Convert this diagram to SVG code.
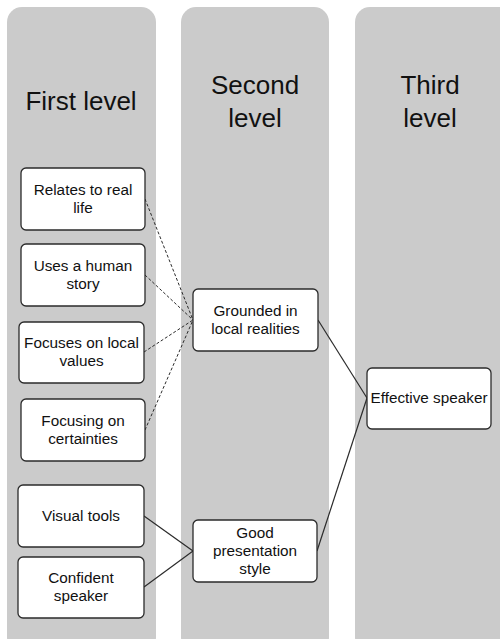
<svg xmlns="http://www.w3.org/2000/svg" width="500" height="639" viewBox="0 0 500 639">
  <style>
    .lane { fill: #cbcbcb; }
    .head { font-family: "Liberation Sans", Arial, sans-serif; font-size: 26px; fill: #111; text-anchor: middle; }
    .box { fill: #ffffff; stroke: #2b2b2b; stroke-width: 1.3; }
    .lbl { font-family: "Liberation Sans", Arial, sans-serif; font-size: 15.3px; fill: #111; text-anchor: middle; }
    .dash { fill: none; stroke: #2b2b2b; stroke-width: 1; stroke-dasharray: 3 2; }
    .solid { fill: none; stroke: #2b2b2b; stroke-width: 1.2; }
  </style>

  <rect width="500" height="639" fill="#ffffff"/>

  <!-- level lanes -->
  <g id="lanes">
    <rect class="lane" x="7" y="7" width="149" height="645" rx="15"/>
    <rect class="lane" x="181" y="7" width="148" height="645" rx="15"/>
    <rect class="lane" x="355" y="7" width="160" height="645" rx="15"/>
    <text class="head" x="81" y="110">First level</text>
    <text class="head" x="255" y="94">Second</text>
    <text class="head" x="255" y="127">level</text>
    <text class="head" x="430" y="94">Third</text>
    <text class="head" x="430" y="127">level</text>
  </g>

  <!-- connectors -->
  <g id="connectors">
    <line class="dash" x1="145" y1="199" x2="193" y2="320"/>
    <line class="dash" x1="145" y1="275" x2="193" y2="320"/>
    <line class="dash" x1="144" y1="352" x2="193" y2="320"/>
    <line class="dash" x1="145" y1="430" x2="193" y2="320"/>
    <line class="solid" x1="144" y1="516" x2="193" y2="551"/>
    <line class="solid" x1="144" y1="587" x2="193" y2="551"/>
    <line class="solid" x1="318" y1="320" x2="367" y2="398"/>
    <line class="solid" x1="317" y1="551" x2="367" y2="398"/>
  </g>

  <!-- first level -->
  <g id="relates">
    <rect class="box" x="21" y="168" width="124" height="62" rx="5"/>
    <text class="lbl" x="83" y="195">Relates to real</text>
    <text class="lbl" x="83" y="213">life</text>
  </g>
  <g id="human-story">
    <rect class="box" x="21" y="244" width="124" height="62" rx="5"/>
    <text class="lbl" x="83" y="271">Uses a human</text>
    <text class="lbl" x="83" y="289">story</text>
  </g>
  <g id="local-values">
    <rect class="box" x="19" y="322" width="125" height="61" rx="5"/>
    <text class="lbl" x="81.5" y="348">Focuses on local</text>
    <text class="lbl" x="81.5" y="366">values</text>
  </g>
  <g id="certainties">
    <rect class="box" x="21" y="399" width="124" height="62" rx="5"/>
    <text class="lbl" x="83" y="426">Focusing on</text>
    <text class="lbl" x="83" y="444">certainties</text>
  </g>
  <g id="visual-tools">
    <rect class="box" x="18" y="485" width="126" height="62" rx="5"/>
    <text class="lbl" x="81" y="521">Visual tools</text>
  </g>
  <g id="confident">
    <rect class="box" x="18" y="557" width="126" height="61" rx="5"/>
    <text class="lbl" x="81" y="583">Confident</text>
    <text class="lbl" x="81" y="601">speaker</text>
  </g>

  <!-- second level -->
  <g id="grounded">
    <rect class="box" x="193" y="289" width="125" height="62" rx="5"/>
    <text class="lbl" x="255.5" y="316">Grounded in</text>
    <text class="lbl" x="255.5" y="334">local realities</text>
  </g>
  <g id="presentation">
    <rect class="box" x="193" y="520" width="124" height="62" rx="5"/>
    <text class="lbl" x="255" y="538">Good</text>
    <text class="lbl" x="255" y="556">presentation</text>
    <text class="lbl" x="255" y="574">style</text>
  </g>

  <!-- third level -->
  <g id="effective">
    <rect class="box" x="367" y="368" width="124" height="61" rx="5"/>
    <text class="lbl" x="429" y="403">Effective speaker</text>
  </g>
</svg>
